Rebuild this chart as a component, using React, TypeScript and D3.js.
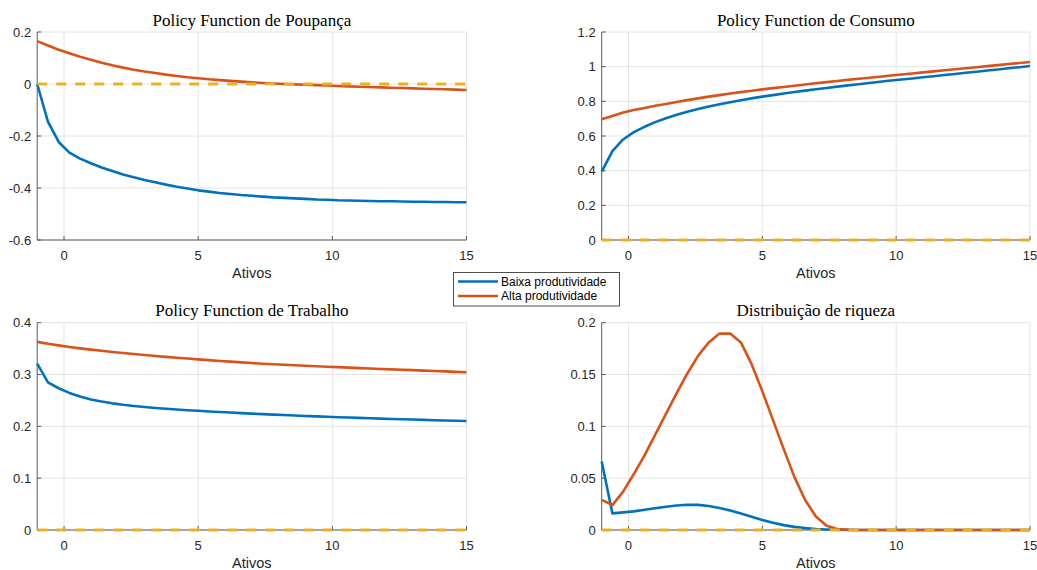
import React from "react";
import * as d3 from "d3";

// Asset grid (Ativos)
const assetGrid = [
  -1.0, -0.6, -0.2, 0.2, 0.6, 1.0, 1.4, 1.8, 2.2, 2.6, 3.0, 3.4, 3.8, 4.2,
  4.6, 5.0, 5.4, 5.8, 6.2, 6.6, 7.0, 7.4, 7.8, 8.2, 8.6, 9.0, 9.4, 9.8, 10.2,
  10.6, 11.0, 11.4, 11.8, 12.2, 12.6, 13.0, 13.4, 13.8, 14.2, 14.6, 15.0,
];

// Savings policy (Poupança)
const savingsLow = [
  0.0, -0.145, -0.223, -0.264, -0.287, -0.305, -0.321, -0.335, -0.348, -0.359,
  -0.369, -0.378, -0.387, -0.395, -0.402, -0.409, -0.414, -0.419, -0.423,
  -0.427, -0.43, -0.433, -0.436, -0.438, -0.44, -0.442, -0.444, -0.445,
  -0.447, -0.448, -0.449, -0.45, -0.451, -0.451, -0.452, -0.453, -0.453,
  -0.454, -0.454, -0.455, -0.455,
];
const savingsHigh = [
  0.165, 0.148, 0.132, 0.118, 0.105, 0.093, 0.082, 0.072, 0.063, 0.055, 0.048,
  0.042, 0.036, 0.031, 0.026, 0.022, 0.018, 0.015, 0.012, 0.009, 0.0065,
  0.004, 0.002, 0.0, -0.0015, -0.003, -0.0045, -0.006, -0.0075, -0.009,
  -0.0105, -0.0118, -0.013, -0.0143, -0.0156, -0.0168, -0.018, -0.0192,
  -0.0204, -0.0216, -0.0228,
];

// Consumption policy (Consumo)
const consumptionLow = [
  0.394, 0.513, 0.58, 0.622, 0.653, 0.68, 0.702, 0.722, 0.74, 0.756, 0.77,
  0.783, 0.795, 0.806, 0.817, 0.827, 0.836, 0.845, 0.854, 0.862, 0.87, 0.877,
  0.885, 0.892, 0.899, 0.906, 0.913, 0.92, 0.926, 0.932, 0.939, 0.945, 0.952,
  0.958, 0.965, 0.971, 0.978, 0.984, 0.991, 0.997, 1.004,
];
const consumptionHigh = [
  0.696, 0.716, 0.735, 0.75, 0.762, 0.774, 0.785, 0.796, 0.807, 0.817, 0.827,
  0.836, 0.845, 0.853, 0.861, 0.869, 0.876, 0.883, 0.89, 0.897, 0.904, 0.911,
  0.917, 0.924, 0.93, 0.936, 0.942, 0.949, 0.955, 0.961, 0.967, 0.973, 0.979,
  0.985, 0.991, 0.997, 1.003, 1.009, 1.015, 1.021, 1.027,
];

// Labour policy (Trabalho)
const laborLow = [
  0.321, 0.285, 0.2735, 0.2645, 0.2575, 0.252, 0.2478, 0.2444, 0.2416, 0.2393,
  0.2373, 0.2355, 0.2339, 0.2325, 0.2312, 0.23, 0.2288, 0.2277, 0.2266, 0.2256,
  0.2246, 0.2236, 0.2227, 0.2218, 0.2209, 0.2201, 0.2193, 0.2185, 0.2177,
  0.217, 0.2163, 0.2156, 0.2149, 0.2143, 0.2137, 0.2131, 0.2125, 0.2119,
  0.2114, 0.2109, 0.2104,
];
const laborHigh = [
  0.363, 0.3595, 0.3563, 0.353, 0.3505, 0.3481, 0.3458, 0.3436, 0.3415, 0.3395,
  0.3376, 0.3358, 0.3341, 0.3324, 0.3308, 0.3292, 0.3277, 0.3262, 0.3248,
  0.3234, 0.3221, 0.3208, 0.3198, 0.3188, 0.3178, 0.3169, 0.316, 0.3151,
  0.3142, 0.3133, 0.3124, 0.3116, 0.3108, 0.31, 0.3092, 0.3084, 0.3076,
  0.3068, 0.306, 0.3052, 0.3044,
];

// Wealth distribution (Distribuição de riqueza)
const wealthLow = [
  0.066, 0.016, 0.017, 0.018, 0.0195, 0.021, 0.0225, 0.0237, 0.0243, 0.0242,
  0.0232, 0.0213, 0.0188, 0.016, 0.0128, 0.0097, 0.007, 0.0047, 0.003, 0.0018,
  0.001, 0.0005, 0.0002, 0.0001, 0, 0, 0, 0, 0, 0, 0, 0, 0, 0, 0, 0, 0, 0, 0,
  0, 0,
];
const wealthHigh = [
  0.029, 0.024, 0.037, 0.054, 0.072, 0.092, 0.112, 0.132, 0.151, 0.168, 0.181,
  0.1895, 0.1895, 0.181, 0.16, 0.134, 0.106, 0.078, 0.051, 0.029, 0.013,
  0.004, 0.001, 0.0002, 0, 0, 0, 0, 0, 0, 0, 0, 0, 0, 0, 0, 0, 0, 0, 0, 0,
];

// Horizontal reference at zero, spanning the asset grid
const zeroLineX = [-1, 15];
const zeroLineY = [0, 0];

const xTicks = [0, 5, 10, 15];
const xTickLabels = ["0", "5", "10", "15"];

const savingsTicks = [-0.6, -0.4, -0.2, 0, 0.2];
const savingsTickLabels = ["-0.6", "-0.4", "-0.2", "0", "0.2"];
const consumptionTicks = [0, 0.2, 0.4, 0.6, 0.8, 1, 1.2];
const consumptionTickLabels = ["0", "0.2", "0.4", "0.6", "0.8", "1", "1.2"];
const laborTicks = [0, 0.1, 0.2, 0.3, 0.4];
const laborTickLabels = ["0", "0.1", "0.2", "0.3", "0.4"];
const wealthTicks = [0, 0.05, 0.1, 0.15, 0.2];
const wealthTickLabels = ["0", "0.05", "0.1", "0.15", "0.2"];

const seriesNames = ["Baixa produtividade", "Alta produtividade"];
const xLabel = "Ativos";

const BLUE = "#0072BD";
const ORANGE = "#D95319";
const YELLOW = "#EDB120";
const TEXT = "#262626";
const GRID = "#e4e4e4";
const AXIS = "#5a5a5a";
const SANS = "'Liberation Sans', Arial, Helvetica, sans-serif";
const SERIF = "'Liberation Serif', 'Times New Roman', serif";

type PanelProps = {
  left: number;
  right: number;
  top: number;
  bottom: number;
  title: string;
  yDomain: [number, number];
  yTicks: number[];
  yTickLabels: string[];
  low: number[];
  high: number[];
};

function Panel(p: PanelProps) {
  const x = d3.scaleLinear().domain([-1, 15]).range([p.left, p.right]);
  const y = d3.scaleLinear().domain(p.yDomain).range([p.bottom, p.top]);
  const line = d3
    .line<[number, number]>()
    .x((d) => x(d[0]))
    .y((d) => y(d[1]));
  const pts = (vals: number[]) =>
    assetGrid.map((a, i) => [a, vals[i]] as [number, number]);
  const zero = zeroLineX.map((a, i) => [a, zeroLineY[i]] as [number, number]);
  const tickLen = 4;
  const cx = (p.left + p.right) / 2;

  return (
    <g>
      {/* grid */}
      {xTicks.map((t) => (
        <line key={"gx" + t} x1={x(t)} x2={x(t)} y1={p.top} y2={p.bottom} stroke={GRID} strokeWidth={1} />
      ))}
      {p.yTicks.map((t) => (
        <line key={"gy" + t} x1={p.left} x2={p.right} y1={y(t)} y2={y(t)} stroke={GRID} strokeWidth={1} />
      ))}
      {/* axes */}
      <line x1={p.left} x2={p.right} y1={p.bottom} y2={p.bottom} stroke={AXIS} strokeWidth={1} />
      <line x1={p.left} x2={p.left} y1={p.top} y2={p.bottom} stroke={AXIS} strokeWidth={1} />
      {xTicks.map((t, i) => (
        <g key={"tx" + t}>
          <line x1={x(t)} x2={x(t)} y1={p.bottom} y2={p.bottom - tickLen} stroke={AXIS} strokeWidth={1} />
          <text x={x(t)} y={p.bottom + 20} textAnchor="middle" fontFamily={SANS} fontSize={13} fill={TEXT}>
            {xTickLabels[i]}
          </text>
        </g>
      ))}
      {p.yTicks.map((t, i) => (
        <g key={"ty" + t}>
          <line x1={p.left} x2={p.left + tickLen} y1={y(t)} y2={y(t)} stroke={AXIS} strokeWidth={1} />
          <text x={p.left - 6} y={y(t)} dy="0.36em" textAnchor="end" fontFamily={SANS} fontSize={13} fill={TEXT}>
            {p.yTickLabels[i]}
          </text>
        </g>
      ))}
      {/* series */}
      <path d={line(pts(p.low)) || ""} fill="none" stroke={BLUE} strokeWidth={2.6} strokeLinejoin="round" />
      <path d={line(pts(p.high)) || ""} fill="none" stroke={ORANGE} strokeWidth={2.6} strokeLinejoin="round" />
      <path d={line(zero) || ""} fill="none" stroke={YELLOW} strokeWidth={3} strokeDasharray="10 9" />
      {/* labels */}
      <text x={cx} y={p.top - 6.5} textAnchor="middle" fontFamily={SERIF} fontSize={17} fill="#000">
        {p.title}
      </text>
      <text x={cx} y={p.bottom + 37.5} textAnchor="middle" fontFamily={SANS} fontSize={14.5} fill={TEXT}>
        {xLabel}
      </text>
    </g>
  );
}

export default function App() {
  const L1 = 37.2, R1 = 466.5, L2 = 601.7, R2 = 1030;
  const T1 = 32, B1 = 240, T2 = 322.7, B2 = 530;
  return (
    <svg
      width={1037}
      height={570}
      style={{ position: "absolute", left: 0, top: 0, background: "#fff" }}
    >
      <rect x={0} y={0} width={1037} height={570} fill="#fff" />
      <Panel left={L1} right={R1} top={T1} bottom={B1} title="Policy Function de Poupança"
        yDomain={[-0.6, 0.2]} yTicks={savingsTicks} yTickLabels={savingsTickLabels}
        low={savingsLow} high={savingsHigh} />
      <Panel left={L2} right={R2} top={T1} bottom={B1} title="Policy Function de Consumo"
        yDomain={[0, 1.2]} yTicks={consumptionTicks} yTickLabels={consumptionTickLabels}
        low={consumptionLow} high={consumptionHigh} />
      <Panel left={L1} right={R1} top={T2} bottom={B2} title="Policy Function de Trabalho"
        yDomain={[0, 0.4]} yTicks={laborTicks} yTickLabels={laborTickLabels}
        low={laborLow} high={laborHigh} />
      <Panel left={L2} right={R2} top={T2} bottom={B2} title="Distribuição de riqueza"
        yDomain={[0, 0.2]} yTicks={wealthTicks} yTickLabels={wealthTickLabels}
        low={wealthLow} high={wealthHigh} />
      {/* legend */}
      <g>
        <rect x={453.5} y={272.5} width={166} height={33.5} fill="#fff" stroke="#4d4d4d" strokeWidth={1} />
        {[BLUE, ORANGE].map((c, i) => (
          <g key={c}>
            <line x1={458} x2={498} y1={281.5 + i * 14.5} y2={281.5 + i * 14.5} stroke={c} strokeWidth={2.6} />
            <text x={501} y={281.5 + i * 14.5} dy="0.36em" fontFamily={SANS} fontSize={12} fill="#000">
              {seriesNames[i]}
            </text>
          </g>
        ))}
      </g>
    </svg>
  );
}
